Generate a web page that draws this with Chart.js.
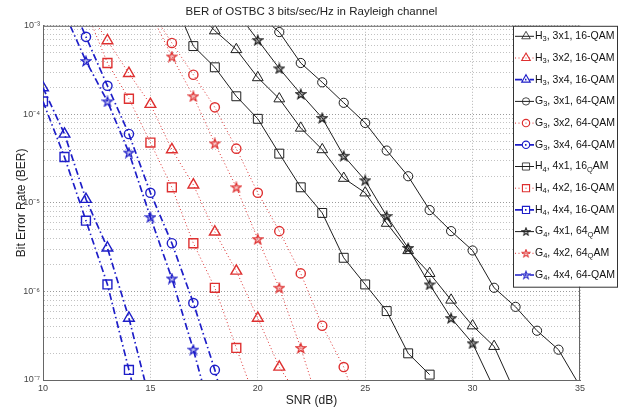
<!DOCTYPE html>
<html lang="en">
<head>
<meta charset="UTF-8">
<title>BER of OSTBC 3 bits/sec/Hz in Rayleigh channel</title>
<script src="https://cdn.jsdelivr.net/npm/chart.js"></script>
<style>
  body { margin: 0; background: #fff; }
  canvas { display: block; }
</style>
</head>
<body>
<canvas id="berChart" width="621" height="410"></canvas>

<script>
// values: SNR (dB) and bit error rate
const snrH3x1 = [17, 18, 19, 20, 21, 22, 23, 24, 25, 26, 27, 28, 29, 30, 31, 32];
const berH3x1 = [1.6e-3, 8.8e-4, 5.4e-4, 2.6e-4, 1.5e-4, 7.0e-5, 4.0e-5, 1.9e-5, 1.3e-5, 5.9e-6, 2.9e-6, 1.6e-6, 8.0e-7, 4.1e-7, 2.4e-7, 7e-8];
const snrH3x2 = [12, 13, 14, 15, 16, 17, 18, 19, 20, 21, 22];
const berH3x2 = [1.6e-3, 6.8e-4, 2.9e-4, 1.3e-4, 4.0e-5, 1.6e-5, 4.7e-6, 1.7e-6, 5.0e-7, 1.4e-7, 6e-8];
const snrH3x4 = [10, 11, 12, 13, 14, 15];
const berH3x4 = [2.0e-4, 6.0e-5, 1.1e-5, 3.1e-6, 5.0e-7, 5.5e-8];

const snrG3x1 = [20, 21, 22, 23, 24, 25, 26, 27, 28, 29, 30, 31, 32, 33, 34, 35];
const berG3x1 = [1.35e-3, 8.5e-4, 3.8e-4, 2.3e-4, 1.35e-4, 8.0e-5, 3.9e-5, 2.0e-5, 8.3e-6, 4.8e-6, 2.9e-6, 1.1e-6, 6.7e-7, 3.6e-7, 2.2e-7, 8.5e-8];
const snrG3x2 = [15, 16, 17, 18, 19, 20, 21, 22, 23, 24, 25];
const berG3x2 = [1.5e-3, 6.4e-4, 2.8e-4, 1.2e-4, 4.1e-5, 1.3e-5, 4.8e-6, 1.6e-6, 4.1e-7, 1.4e-7, 3e-8];
const snrG3x4 = [11, 12, 13, 14, 15, 16, 17, 18, 19];
const berG3x4 = [2.7e-3, 7.5e-4, 2.1e-4, 6.0e-5, 1.3e-5, 3.5e-6, 7.4e-7, 1.3e-7, 1.5e-8];

const snrH4x1 = [16, 17, 18, 19, 20, 21, 22, 23, 24, 25, 26, 27, 28];
const berH4x1 = [2.2e-3, 5.9e-4, 3.4e-4, 1.6e-4, 8.9e-5, 3.6e-5, 1.5e-5, 7.7e-6, 2.4e-6, 1.2e-6, 6.0e-7, 2.0e-7, 1.15e-7];
const snrH4x2 = [12, 13, 14, 15, 16, 17, 18, 19, 20];
const berH4x2 = [1.5e-3, 3.8e-4, 1.5e-4, 4.8e-5, 1.5e-5, 3.5e-6, 1.1e-6, 2.3e-7, 5e-8];
const snrH4x4 = [10, 11, 12, 13, 14, 15];
const berH4x4 = [1.4e-4, 3.3e-5, 6.3e-6, 1.2e-6, 1.3e-7, 1.4e-8];

const snrG4x1 = [19, 20, 21, 22, 23, 24, 25, 26, 27, 28, 29, 30, 31];
const berG4x1 = [1.45e-3, 6.9e-4, 3.3e-4, 1.7e-4, 9.1e-5, 3.4e-5, 1.8e-5, 7.1e-6, 3.1e-6, 1.2e-6, 5.0e-7, 2.6e-7, 8e-8];
const snrG4x2 = [15, 16, 17, 18, 19, 20, 21, 22, 23];
const berG4x2 = [1.4e-3, 4.5e-4, 1.6e-4, 4.7e-5, 1.5e-5, 3.9e-6, 1.1e-6, 2.3e-7, 4e-8];
const snrG4x4 = [11, 12, 13, 14, 15, 16, 17, 18];
const berG4x4 = [1.4e-3, 4.0e-4, 1.4e-4, 3.7e-5, 6.9e-6, 1.4e-6, 2.2e-7, 2.8e-8];

// legend text, "_x" means subscript x (as in the original figure)
const legendLabels = [
  'H_3, 3x1, 16-QAM', 'H_3, 3x2, 16-QAM', 'H_3, 3x4, 16-QAM',
  'G_3, 3x1, 64-QAM', 'G_3, 3x2, 64-QAM', 'G_3, 3x4, 64-QAM',
  'H_4, 4x1, 16_QAM', 'H_4, 4x2, 16-QAM', 'H_4, 4x4, 16-QAM',
  'G_4, 4x1, 64_QAM', 'G_4, 4x2, 64_QAM', 'G_4, 4x4, 64-QAM'
];

const xTicks = [10, 15, 20, 25, 30, 35];
const yDecades = [1e-7, 1e-6, 1e-5, 1e-4, 1e-3];
const yTickLabels = ['10⁻⁷', '10⁻⁶', '10⁻⁵', '10⁻⁴', '10⁻³'];

const FONT = "'Liberation Sans', Arial, sans-serif";
Chart.defaults.font.family = FONT;

const BLACK = '#1e1e1e', RED = '#de3030', BLUE = '#1e1ec8';
const lineStyles = {
  black: { color: BLACK, width: 1, dash: [], markerWidth: 1 },
  red: { color: RED, width: 1, dash: [1, 2.5], markerWidth: 1.4 },
  blue: { color: BLUE, width: 1.7, dash: [7, 3, 1.5, 3], markerWidth: 1.4 }
};

function starMarker(color) {
  const c = document.createElement('canvas');
  c.width = 12; c.height = 12;
  const g = c.getContext('2d');
  g.beginPath();
  for (let k = 0; k < 10; k++) {
    const r = k % 2 ? 2.0 : 5.0;
    const a = -Math.PI / 2 + k * Math.PI / 5;
    const px = 6 + r * Math.cos(a), py = 6.4 + r * Math.sin(a);
    if (k) g.lineTo(px, py); else g.moveTo(px, py);
  }
  g.closePath();
  g.globalAlpha = 0.25; g.fillStyle = color; g.fill();
  g.globalAlpha = 1; g.strokeStyle = color; g.lineWidth = 1.2; g.stroke();
  return c;
}

function marker(kind, color) {
  if (kind === 'tri') return { style: 'triangle', r: 6.2 };
  if (kind === 'circ') return { style: 'circle', r: 4.6 };
  if (kind === 'sq') return { style: 'rect', r: 6.3 };
  return { style: starMarker(color), r: 5 };
}

const series = [
  [snrH3x1, berH3x1, 'black', 'tri'], [snrH3x2, berH3x2, 'red', 'tri'], [snrH3x4, berH3x4, 'blue', 'tri'],
  [snrG3x1, berG3x1, 'black', 'circ'], [snrG3x2, berG3x2, 'red', 'circ'], [snrG3x4, berG3x4, 'blue', 'circ'],
  [snrH4x1, berH4x1, 'black', 'sq'], [snrH4x2, berH4x2, 'red', 'sq'], [snrH4x4, berH4x4, 'blue', 'sq'],
  [snrG4x1, berG4x1, 'black', 'star'], [snrG4x2, berG4x2, 'red', 'star'], [snrG4x4, berG4x4, 'blue', 'star']
];

const datasets = series.map(([snr, ber, line, kind], i) => {
  const st = lineStyles[line];
  const mk = marker(kind, st.color);
  return {
    label: legendLabels[i],
    data: snr.map((s, k) => ({ x: s, y: ber[k] })),
    borderColor: st.color,
    borderWidth: st.width,
    borderDash: st.dash,
    pointStyle: mk.style,
    pointRadius: mk.r,
    pointBorderColor: st.color,
    pointBorderWidth: st.markerWidth,
    pointBackgroundColor: 'rgba(0,0,0,0)',
    fill: false,
    tension: 0
  };
});

// minor grid values: 1..9 times each decade
const yGridValues = [];
yDecades.slice(0, -1).forEach(d => { for (let m = 1; m <= 9; m++) yGridValues.push(m * d); });
yGridValues.push(yDecades[yDecades.length - 1]);

function drawTexLabel(ctx, text, x, y) {
  text.split(/_(.)/).forEach((p, k) => {
    if (k % 2) { ctx.font = '7.5px ' + FONT; ctx.fillText(p, x, y + 3); }
    else { ctx.font = '10.5px ' + FONT; ctx.fillText(p, x, y); }
    x += ctx.measureText(p).width;
  });
}

const frameAndLegend = {
  id: 'frameAndLegend',
  afterDraw(chart) {
    const { ctx, chartArea: a } = chart;
    ctx.save();
    // top and right edges of the axes box
    ctx.strokeStyle = '#666';
    ctx.lineWidth = 1;
    ctx.beginPath();
    ctx.moveTo(a.left, a.top + 0.5); ctx.lineTo(a.right, a.top + 0.5);
    ctx.moveTo(a.right - 0.5, a.top); ctx.lineTo(a.right - 0.5, a.bottom);
    ctx.stroke();

    // boxed legend inside the axes, top right
    const x0 = chart.width - 108, y0 = a.top, w = 104, rowH = 21.7;
    const h = rowH * chart.data.datasets.length + 0.5;
    ctx.fillStyle = '#fff';
    ctx.fillRect(x0, y0, w, h);
    ctx.strokeStyle = '#333';
    ctx.strokeRect(x0 + 0.5, y0 + 0.5, w, h);
    ctx.textAlign = 'left';
    ctx.textBaseline = 'middle';
    chart.data.datasets.forEach((ds, i) => {
      const cy = y0 + 10.5 + i * rowH;
      ctx.strokeStyle = ds.borderColor;
      ctx.lineWidth = ds.borderWidth;
      ctx.setLineDash(ds.borderDash);
      ctx.beginPath(); ctx.moveTo(x0 + 2, cy); ctx.lineTo(x0 + 21, cy); ctx.stroke();
      ctx.setLineDash([]);
      ctx.save();
      ctx.translate(x0 + 13, cy);
      ctx.scale(0.8, 0.8);
      ctx.lineWidth = ds.pointBorderWidth;
      ctx.fillStyle = 'rgba(0,0,0,0)';
      Chart.helpers.drawPoint(ctx, { pointStyle: ds.pointStyle, radius: ds.pointRadius, rotation: 0, borderWidth: ds.pointBorderWidth }, 0, 0);
      ctx.restore();
      ctx.fillStyle = '#111';
      drawTexLabel(ctx, ds.label, x0 + 22, cy);
    });
    ctx.restore();
  }
};

new Chart(document.getElementById('berChart'), {
  type: 'line',
  data: { datasets },
  options: {
    responsive: false,
    animation: false,
    layout: { padding: { right: 41 } },
    plugins: {
      legend: { display: false },
      tooltip: { enabled: false },
      title: {
        display: true,
        fullSize: false,
        text: 'BER of OSTBC 3 bits/sec/Hz in Rayleigh channel',
        color: '#222',
        font: { size: 11.5, weight: 'normal' },
        padding: { top: 5, bottom: 7 }
      }
    },
    scales: {
      x: {
        type: 'linear',
        min: 10,
        max: 35,
        afterBuildTicks: s => { s.ticks = xTicks.map(v => ({ value: v })); },
        afterFit: s => { s.height = 30; s.paddingLeft = 0; s.paddingRight = 0; },
        ticks: { padding: 3, color: '#444', font: { size: 9 }, maxRotation: 0 },
        grid: { color: '#b4b4b4', drawTicks: false },
        border: { color: '#666', dash: [1, 2] },
        title: { display: true, text: 'SNR (dB)', color: '#222', font: { size: 12 }, padding: { top: 0, bottom: 2 } }
      },
      y: {
        type: 'logarithmic',
        min: 1e-7,
        max: 1e-3,
        afterBuildTicks: s => { s.ticks = yGridValues.map(v => ({ value: v })); },
        afterFit: s => { s.width = 43; },
        ticks: {
          autoSkip: false,
          padding: 3,
          color: '#444',
          font: { size: 9 },
          callback: v => { const k = yDecades.indexOf(v); return k >= 0 ? yTickLabels[k] : ''; }
        },
        grid: {
          color: c => (c.tick && yDecades.indexOf(c.tick.value) >= 0) ? '#9a9a9a' : '#c2c2c2',
          drawTicks: false
        },
        border: { color: '#666', dash: [1, 2] },
        title: { display: true, text: 'Bit Error Rate (BER)', color: '#222', font: { size: 12 }, padding: { top: 14, bottom: 0 } }
      }
    }
  },
  plugins: [frameAndLegend]
});
</script>
</body>
</html>
